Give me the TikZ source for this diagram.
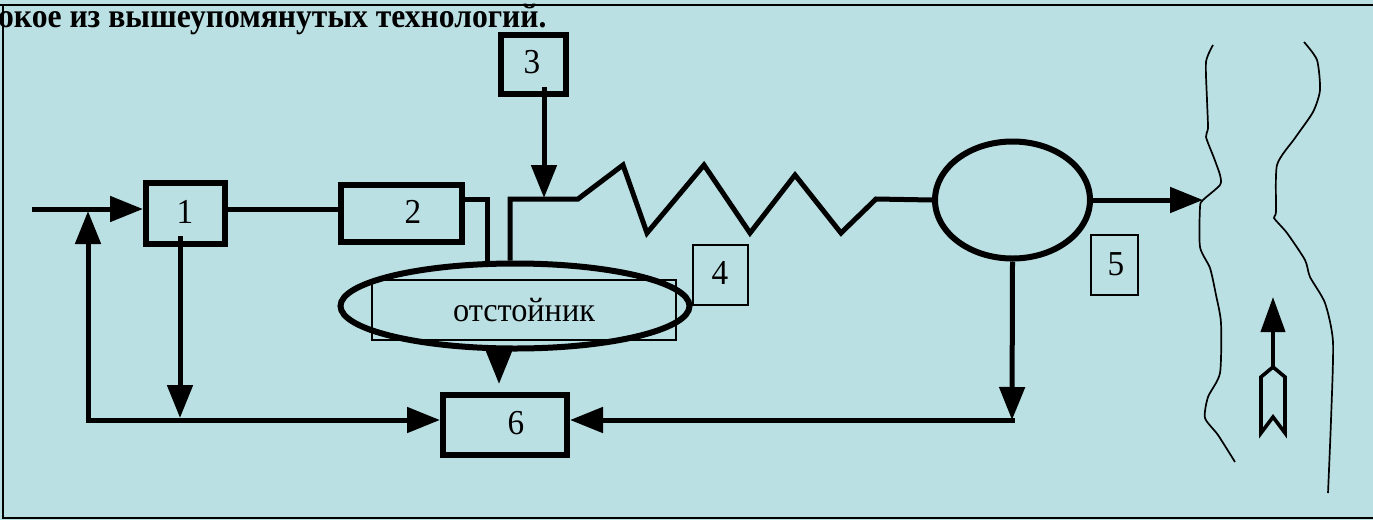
\documentclass[tikz,border=0pt]{standalone}
\usepackage{fontspec}
\setmainfont{Liberation Serif}
\usetikzlibrary{arrows.meta,shapes.geometric,calc}
\definecolor{bgc}{RGB}{186,224,227}
\tikzset{
  thickbox/.style={draw, line width=6pt, rectangle, inner sep=0pt},
  thinbox/.style={draw, line width=1.6pt, rectangle, inner sep=0pt},
  pipe/.style={line width=5pt},
  flow/.style={line width=5pt, -{Triangle[length=33pt,width=25pt]}},
  lbl/.style={font=\fontsize{35}{40}\selectfont, inner sep=0pt, xscale=0.95},
  bank/.style={line width=1.7pt}
}
\begin{document}
\begin{tikzpicture}[x=1pt,y=-1pt]
\useasboundingbox (0,0) rectangle (1373,520);
\clip (0,0) rectangle (1373,520);
\fill[bgc] (0,0) rectangle (1373,520);
% frame
\draw[line width=2.5pt] (0,5) -- (1373,5);
\draw[line width=2pt] (3,5) -- (3,518) -- (1373,518);
% title
\node[anchor=base west, inner sep=0pt, xscale=0.93, font=\bfseries\fontsize{34}{40}\selectfont] (title) at (-2,27) {окое из вышеупомянутых технологий.};

% boxes
\node[thickbox, minimum width=79pt, minimum height=61pt] (box1) at (185.5,213.5) {};
\node[lbl] (t1) at (185,212) {1};
\node[thickbox, minimum width=121pt, minimum height=57pt] (box2) at (401.5,213.5) {};
\node[lbl] (t2) at (413,212) {2};
\node[thickbox, minimum width=65pt, minimum height=59pt] (box3) at (533.5,64.5) {};
\node[lbl] (t3) at (532,62) {3};
\node[thickbox, minimum width=124pt, minimum height=60pt] (box6) at (505,425) {};
\node[lbl] (t6) at (516,423) {6};
\node[thinbox, minimum width=55pt, minimum height=60pt] (box4) at (720.5,275) {};
\node[lbl] (t4) at (720,273) {4};
\node[thinbox, minimum width=47pt, minimum height=60pt] (box5) at (1114.5,265) {};
\node[lbl] (t5) at (1116,264) {5};

% settler
\node[ellipse, draw, line width=6pt, minimum width=349pt, minimum height=85pt, inner sep=0pt] (settle) at (515,306) {};
\node[thinbox, minimum width=304pt, minimum height=60pt] (rect) at (524,310) {};
\node[inner sep=0pt, xscale=0.95, font=\fontsize{34}{40}\selectfont] (rtext) at (524,310) {отстойник};

% clarifier
\node[ellipse, draw, line width=6pt, minimum width=155pt, minimum height=117pt, inner sep=0pt] (circ) at (1012.5,200) {};

% coordinates
\coordinate (in1) at (32,209);
\coordinate (fbL) at (88,420);
\coordinate (fbT) at (88,211);
\coordinate (d1s) at (180,236);
\coordinate (d1e) at (180,418);
\coordinate (pipeA) at (487,199);
\coordinate (pipeB) at (510,199);
\coordinate (b3s) at (544,87);
\coordinate (z0) at (578,199);
\coordinate (z1) at (623,165);
\coordinate (z2) at (647,233);
\coordinate (z3) at (704,165);
\coordinate (z4) at (750,233);
\coordinate (z5) at (795,175);
\coordinate (z6) at (841,233);
\coordinate (z7) at (876,199);
\coordinate (s6s) at (499,349);
\coordinate (s6e) at (499,384);
\coordinate (c6) at (1012,420);
\coordinate (riv) at (1203,200);

% connectors
\draw[flow] (in1) -- (in1 -| box1.west);
\draw[flow] (fbL) -- (fbT);
\draw[flow] ([xshift=-2.5pt]fbL) -- (fbL -| box6.west);
\draw[flow] (d1s) -- (d1e);
\draw[pipe] (box1.east |- in1) -- (box2.west |- in1);
\draw[pipe, line join=miter] (box2.east |- pipeA) -- (pipeA) -- (pipeA |- settle.north);
\draw[pipe, line join=miter] (pipeB |- settle.north) -- (pipeB) -- (z0) -- (z1) -- (z2) -- (z3) -- (z4) -- (z5) -- (z6) -- (z7) -- (circ.west);
\draw[flow] (b3s) -- ($(b3s |- pipeB)+(0,-1)$);
\draw[flow] (s6s) -- (s6e);
\draw[flow] (circ.south) -- (c6);
\draw[flow] ([xshift=2.5pt]c6) -- (box6.east |- c6);
\draw[flow] (circ.east) -- (riv);

% river banks
\draw[bank] plot[smooth, tension=0.4] coordinates {(1213,45) (1206,62) (1207,100) (1208,128) (1206,137) (1214,158) (1220,175) (1220,185) (1203,200) (1200,207) (1200,247) (1210,268) (1216,295) (1221,323) (1220,373) (1208,397) (1205,418) (1218,435) (1235,462)};
\draw[bank] plot[smooth, tension=0.4] coordinates {(1304,42) (1317,60) (1320,90) (1313,112) (1295,138) (1277,165) (1276,212) (1274,218) (1287,233) (1305,260) (1310,277) (1325,303) (1333,342) (1331,420) (1328,493)};

% current direction arrow
\coordinate (fl0) at (1273,367);
\coordinate (fl1) at (1273,297);
\draw[line width=4pt, -{Triangle[length=35pt,width=24pt]}] (fl0) -- (fl1);
\draw[line width=3.6pt, line join=miter] (fl0) -- (1261,377) -- (1261,433) -- (1273,417) -- (1285,433) -- (1285,377) -- cycle;
\end{tikzpicture}
\end{document}
